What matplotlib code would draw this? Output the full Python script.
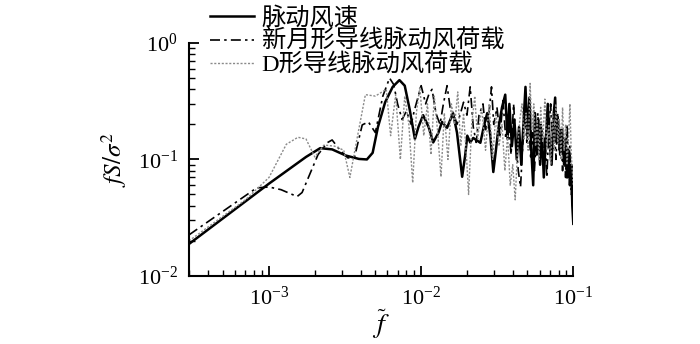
import numpy as np
import matplotlib
matplotlib.use('Agg')
import matplotlib.pyplot as plt
from matplotlib.ticker import LogLocator, LogFormatterSciNotation, NullFormatter

plt.rcParams['mathtext.fontset'] = 'stix'
plt.rcParams['font.family'] = ['Liberation Serif', 'Noto Sans CJK SC']

# ------------------------------------------------------------
# Datos (f_tilde, fS/sigma^2)
# ------------------------------------------------------------
labels = ['脉动风速', '新月形导线脉动风荷载', 'D形导线脉动风荷载']

x_wind = [2.98e-4, 1.0e-3, 1.75e-3, 2.17e-3, 2.6e-3, 3.2e-3, 3.9e-3, 4.4e-3, 4.8e-3,
          5.2e-3, 5.8e-3, 6.5e-3, 7.2e-3, 7.8e-3, 8.4e-3, 9.1e-3, 9.6e-3, 1.03e-2,
          1.12e-2, 1.2e-2, 1.3e-2, 1.37e-2, 1.48e-2, 1.62e-2, 1.72e-2, 1.86e-2,
          1.95e-2, 2.01e-2, 2.1e-2, 2.2e-2, 2.45e-2, 2.6e-2, 2.72e-2, 2.85e-2,
          2.98e-2, 3.1e-2, 3.21e-2, 3.4e-2, 3.57e-2, 3.7e-2, 3.8e-2, 3.95e-2,
          4.1e-2, 4.25e-2, 4.4e-2, 4.55e-2, 4.7e-2, 4.85e-2, 5.0e-2, 5.15e-2,
          5.3e-2, 5.45e-2, 5.6e-2, 5.75e-2, 5.9e-2, 6.05e-2, 6.2e-2, 6.4e-2,
          6.6e-2, 6.8e-2, 7.0e-2, 7.2e-2, 7.4e-2, 7.6e-2, 7.8e-2, 8.0e-2, 8.2e-2,
          8.45e-2, 8.7e-2, 8.9e-2, 9.1e-2, 9.3e-2, 9.5e-2, 9.7e-2, 9.85e-2, 1.0e-1]
y_wind = [0.0188, 0.062, 0.105, 0.125, 0.122, 0.108, 0.101, 0.100, 0.114,
          0.19, 0.31, 0.42, 0.48, 0.43, 0.27, 0.15, 0.19, 0.24,
          0.19, 0.14, 0.17, 0.21, 0.187, 0.25, 0.17, 0.071,
          0.11, 0.16, 0.14, 0.153, 0.139, 0.2, 0.25, 0.16,
          0.078, 0.12, 0.18, 0.28, 0.36, 0.15, 0.30, 0.13,
          0.22, 0.10, 0.19, 0.09, 0.20, 0.42, 0.16, 0.34,
          0.12, 0.06, 0.25, 0.11, 0.22, 0.09, 0.18, 0.07,
          0.15, 0.30, 0.13, 0.09, 0.23, 0.34, 0.14, 0.21, 0.11,
          0.18, 0.09, 0.15, 0.07, 0.12, 0.06, 0.09, 0.04, 0.028]

x_cres = [2.98e-4, 8.3e-4, 1.0e-3, 1.2e-3, 1.53e-3, 1.65e-3, 2.1e-3, 2.41e-3, 2.6e-3,
          2.93e-3, 3.3e-3, 3.65e-3, 4.1e-3, 4.5e-3, 5.0e-3, 5.6e-3, 6.2e-3, 6.6e-3,
          7.0e-3, 7.5e-3, 8.0e-3, 8.6e-3, 9.0e-3, 1.0e-2, 1.07e-2, 1.13e-2, 1.18e-2,
          1.25e-2, 1.33e-2, 1.4e-2, 1.48e-2, 1.55e-2, 1.65e-2, 1.72e-2, 1.8e-2,
          1.9e-2, 2.0e-2, 2.1e-2, 2.2e-2, 2.3e-2, 2.4e-2, 2.55e-2, 2.65e-2, 2.8e-2,
          2.9e-2, 3.0e-2, 3.15e-2, 3.3e-2, 3.45e-2, 3.6e-2, 3.75e-2, 3.9e-2, 4.05e-2,
          4.2e-2, 4.35e-2, 4.5e-2, 4.65e-2, 4.8e-2, 4.95e-2, 5.1e-2, 5.25e-2, 5.4e-2,
          5.55e-2, 5.7e-2, 5.85e-2, 6.0e-2, 6.15e-2, 6.3e-2, 6.5e-2, 6.7e-2, 6.9e-2,
          7.1e-2, 7.3e-2, 7.5e-2, 7.7e-2, 7.9e-2, 8.1e-2, 8.3e-2, 8.5e-2, 8.7e-2,
          8.9e-2, 9.1e-2, 9.3e-2, 9.5e-2, 9.7e-2, 9.85e-2, 1.0e-1]
y_cres = [0.0225, 0.057, 0.058, 0.055, 0.048, 0.052, 0.11, 0.139, 0.147,
          0.12, 0.103, 0.105, 0.198, 0.21, 0.17, 0.35, 0.50, 0.44,
          0.30, 0.22, 0.26, 0.20, 0.26, 0.43, 0.30, 0.37, 0.40,
          0.25, 0.20, 0.30, 0.43, 0.28, 0.24, 0.20, 0.24,
          0.31, 0.24, 0.42, 0.19, 0.14, 0.24, 0.30, 0.18, 0.26,
          0.42, 0.20, 0.28, 0.16, 0.32, 0.15, 0.22, 0.11, 0.30,
          0.14, 0.08, 0.058, 0.13, 0.26, 0.14, 0.21, 0.10, 0.17,
          0.08, 0.14, 0.25, 0.11, 0.20, 0.09, 0.16, 0.07, 0.18,
          0.30, 0.12, 0.20, 0.10, 0.25, 0.12, 0.18, 0.08, 0.14,
          0.07, 0.20, 0.09, 0.13, 0.05, 0.07, 0.05]

x_dsh = [2.98e-4, 7.0e-4, 1.0e-3, 1.3e-3, 1.55e-3, 1.75e-3, 2.0e-3, 2.3e-3, 2.7e-3,
         3.1e-3, 3.4e-3, 3.75e-3, 4.3e-3, 5.0e-3, 5.9e-3, 6.3e-3, 6.8e-3, 7.3e-3,
         7.8e-3, 8.3e-3, 8.8e-3, 9.3e-3, 9.8e-3, 1.04e-2, 1.1e-2, 1.16e-2, 1.22e-2,
         1.28e-2, 1.35e-2, 1.42e-2, 1.5e-2, 1.58e-2, 1.66e-2, 1.74e-2, 1.82e-2,
         1.9e-2, 2.0e-2, 2.05e-2, 2.15e-2, 2.25e-2, 2.35e-2, 2.5e-2, 2.65e-2, 2.8e-2,
         2.95e-2, 3.1e-2, 3.25e-2, 3.4e-2, 3.55e-2, 3.7e-2, 3.85e-2, 4.0e-2, 4.15e-2,
         4.3e-2, 4.45e-2, 4.6e-2, 4.75e-2, 4.9e-2, 5.05e-2, 5.2e-2, 5.35e-2, 5.5e-2,
         5.65e-2, 5.8e-2, 5.95e-2, 6.1e-2, 6.3e-2, 6.5e-2, 6.7e-2, 6.9e-2, 7.1e-2,
         7.3e-2, 7.5e-2, 7.7e-2, 7.9e-2, 8.1e-2, 8.3e-2, 8.5e-2, 8.7e-2, 8.9e-2,
         9.1e-2, 9.3e-2, 9.5e-2, 9.7e-2, 9.85e-2, 1.0e-1]
y_dsh = [0.020, 0.045, 0.07, 0.135, 0.155, 0.15, 0.105, 0.133, 0.13,
         0.12, 0.07, 0.14, 0.36, 0.35, 0.40, 0.16, 0.36, 0.10,
         0.35, 0.20, 0.063, 0.25, 0.42, 0.16, 0.30, 0.11, 0.35,
         0.18, 0.071, 0.25, 0.10, 0.30, 0.20, 0.38, 0.13,
         0.25, 0.09, 0.05, 0.20, 0.35, 0.15, 0.28, 0.12, 0.30,
         0.10, 0.25, 0.13, 0.20, 0.08, 0.16, 0.06, 0.09, 0.045,
         0.12, 0.22, 0.30, 0.15, 0.25, 0.12, 0.45, 0.18, 0.30,
         0.13, 0.22, 0.10, 0.28, 0.14, 0.33, 0.12, 0.20, 0.09,
         0.25, 0.12, 0.30, 0.14, 0.22, 0.10, 0.28, 0.12, 0.20,
         0.09, 0.15, 0.30, 0.11, 0.08, 0.06]

fig = plt.figure(figsize=(7.0, 3.44), dpi=100)
ax = fig.add_axes([0.27, 0.198, 0.549, 0.677])

l1, = ax.plot(x_wind, y_wind, color='black', lw=1.8, ls='-')
l2, = ax.plot(x_cres, y_cres, color='black', lw=1.2, ls=(0, (6, 2.5, 1.5, 2.5)))
l3, = ax.plot(x_dsh, y_dsh, color='#8a8a8a', lw=1.0, ls=(0, (1.5, 1.2)))

ax.set_xscale('log')
ax.set_yscale('log')
ax.set_xlim(2.98e-4, 0.1)
ax.set_ylim(1e-2, 1.0)

for s in ['top', 'right']:
    ax.spines[s].set_visible(False)
for s in ['left', 'bottom']:
    ax.spines[s].set_linewidth(1.5)

ax.xaxis.set_major_locator(LogLocator(base=10, numticks=10))
ax.yaxis.set_major_locator(LogLocator(base=10, numticks=10))
ax.xaxis.set_minor_locator(LogLocator(base=10, subs=np.arange(2, 10), numticks=20))
ax.yaxis.set_minor_locator(LogLocator(base=10, subs=np.arange(2, 10), numticks=20))
ax.xaxis.set_major_formatter(LogFormatterSciNotation())
ax.yaxis.set_major_formatter(LogFormatterSciNotation())
ax.xaxis.set_minor_formatter(NullFormatter())
ax.yaxis.set_minor_formatter(NullFormatter())
ax.tick_params(which='major', direction='in', length=7, width=1.3, labelsize=16, pad=8)
ax.tick_params(which='minor', direction='in', length=4, width=1.0)

ax.set_ylabel(r'$fS/\sigma^2$', fontsize=18, labelpad=6)
ax.set_xlabel(r'$\widetilde{f}$', fontsize=20, labelpad=-2)

leg = fig.legend([l1, l2, l3], labels, loc='upper left', bbox_to_anchor=(0.275, 1.03),
                 frameon=False, fontsize=17.5, handlelength=1.85, handletextpad=0.3,
                 labelspacing=0.02, borderpad=0.2)
for t in leg.get_texts():
    t.set_family(['Liberation Serif', 'Noto Sans CJK SC'])

fig.savefig('out.png', dpi=100)
